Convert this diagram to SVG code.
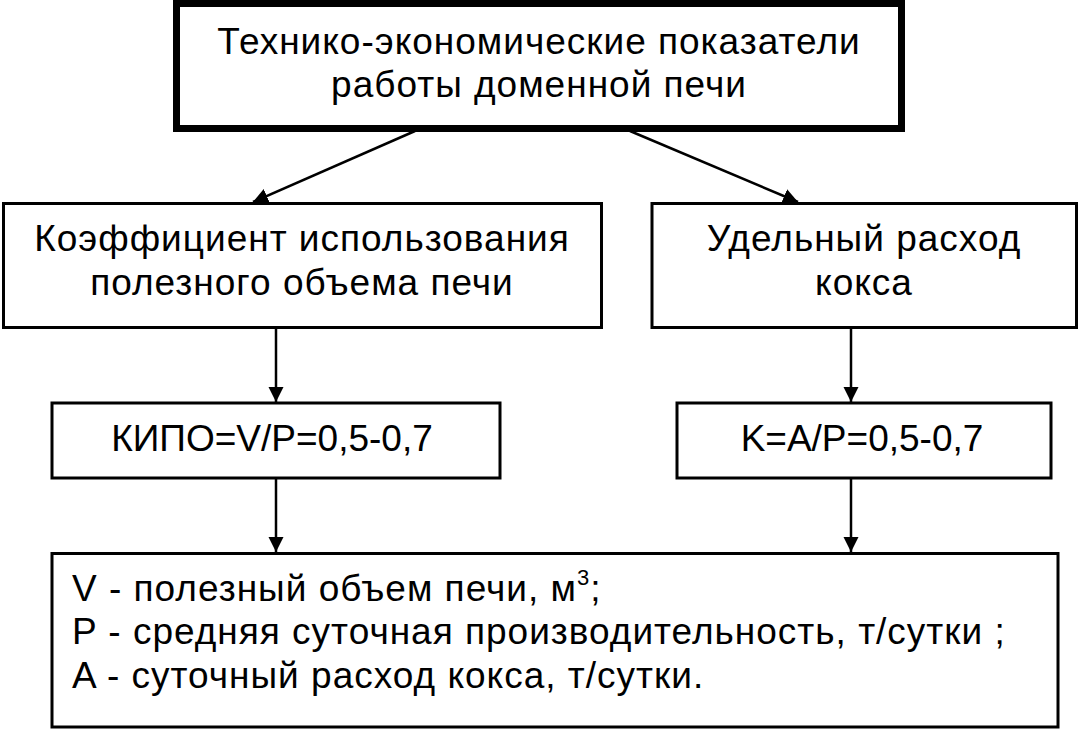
<svg xmlns="http://www.w3.org/2000/svg" width="1078" height="730" viewBox="0 0 1078 730">
<style>
.box{fill:#fff;stroke:#000;stroke-width:3}
.main{fill:#fff;stroke:#000;stroke-width:7}
text{font-family:"Liberation Sans",Arial,sans-serif;font-size:37px;fill:#000}
.c{text-anchor:middle}
.w{letter-spacing:1px}
.ln{stroke:#000;stroke-width:2.5;fill:none;marker-end:url(#ah)}
</style>
<defs>
<marker id="ah" markerUnits="userSpaceOnUse" markerWidth="16" markerHeight="16" refX="15" refY="7.5" orient="auto">
<path d="M0,0 L15,7.5 L0,15 z" fill="#000"/>
</marker>
</defs>
<rect width="1078" height="730" fill="#fff"/>
<g id="top">
<rect class="main" x="176.5" y="3.5" width="725" height="125"/>
<text class="c w" x="539" y="54">Технико-экономические показатели</text>
<text class="c w" x="539" y="97">работы доменной печи</text>
</g>
<g id="kipo-title">
<rect class="box" x="3.5" y="203.5" width="598" height="124"/>
<text class="c w" x="302" y="251">Коэффициент использования</text>
<text class="c w" x="302" y="295">полезного объема печи</text>
</g>
<g id="coke-title">
<rect class="box" x="652" y="203.5" width="424.5" height="124"/>
<text class="c w" x="864" y="251">Удельный расход</text>
<text class="c w" x="864" y="295">кокса</text>
</g>
<g id="kipo">
<rect class="box" x="52" y="403" width="448" height="75"/>
<text class="c" x="272" y="451">КИПО=V/P=0,5-0,7</text>
</g>
<g id="k">
<rect class="box" x="677" y="403" width="374" height="75"/>
<text class="c" x="862" y="451">K=A/P=0,5-0,7</text>
</g>
<g id="legend">
<rect class="box" x="52" y="553.5" width="1006" height="173.5"/>
<text class="w" x="72" y="600.5">V - полезный объем печи, м<tspan font-size="22" dy="-16">3</tspan><tspan dy="16">;</tspan></text>
<text class="w" x="72" y="644">P - средняя суточная производительность, т/сутки ;</text>
<text class="w" x="72" y="688">A - суточный расход кокса, т/сутки.</text>
</g>
<g id="connectors">
<line class="ln" x1="415" y1="131" x2="253" y2="202"/>
<line class="ln" x1="630" y1="131" x2="798" y2="202"/>
<line class="ln" x1="276" y1="329" x2="276" y2="402"/>
<line class="ln" x1="851" y1="329" x2="851" y2="402"/>
<line class="ln" x1="276" y1="479" x2="276" y2="552"/>
<line class="ln" x1="851" y1="479" x2="851" y2="552"/>
</g>
</svg>
